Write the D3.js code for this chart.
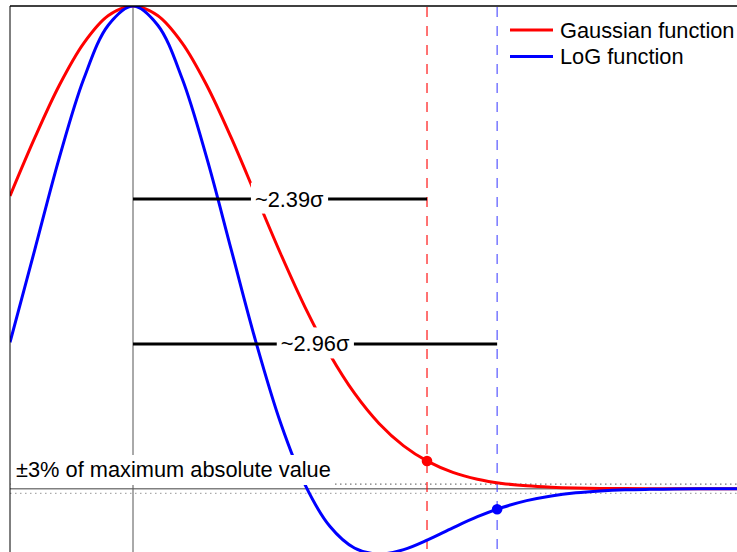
<!DOCTYPE html>
<html>
<head>
<meta charset="utf-8">
<script src="https://cdn.jsdelivr.net/npm/d3@7"></script>
<style>
  body { margin: 0; background: #fff; }
  svg { display: block; }
</style>
</head>
<body>
<div id="chart"></div>
<script>
// sample positions, in units of sigma
const xs = [-1.0, -0.8, -0.6, -0.4, -0.2, 0.0, 0.2, 0.4, 0.6, 0.8, 1.0, 1.2, 1.4, 1.6, 1.8, 2.0,
  2.2, 2.4, 2.6, 2.8, 3.0, 3.2, 3.4, 3.6, 3.8, 4.0, 4.2, 4.4, 4.6, 4.8, 5.0];
const gaussian = [0.6065, 0.7261, 0.8353, 0.9231, 0.9802, 1.0, 0.9802, 0.9231, 0.8353, 0.7261, 0.6065,
  0.4868, 0.3753, 0.2780, 0.1979, 0.1353, 0.0889, 0.0561, 0.0340, 0.0198, 0.0111, 0.0060, 0.0031,
  0.0015, 0.0007, 0.0003, 0.0001, 0.0001, 0, 0, 0];
const logFn = [0.3033, 0.4938, 0.6849, 0.8493, 0.9606, 1.0, 0.9606, 0.8493, 0.6849, 0.4938, 0.3033,
  0.1363, 0.0075, -0.0778, -0.1227, -0.1353, -0.1262, -0.1055, -0.0809, -0.0578, -0.0389, -0.0246,
  -0.0148, -0.0084, -0.0046, -0.0023, -0.0012, -0.0005, -0.0002, -0.0001, 0];

// where each curve enters the band, and the value there
const markX = [2.39, 2.96];
const markY = [0.0575, -0.0423];
const spanY = [0.6, 0.3];
const spanLabels = ["~2.39σ", "~2.96σ"];
const labelX = [1.27, 1.48];
const band = 0.0095;

const seriesNames = ["Gaussian function", "LoG function"];
const colors = ["#ff0000", "#0000ff"];
const dashColors = ["#ff0000", "#4848ff"];

const width = 737;
const height = 552;
const plotLeft = 10, plotTop = 6, plotRight = 737, plotBottom = 552;
const font = "'Liberation Sans', Arial, sans-serif";
const fontSize = "21.8px";

const x = d3.scaleLinear().domain([-1, 4.91]).range([plotLeft, plotRight]);
const y = d3.scaleLinear().domain([-0.131, 1]).range([plotBottom, plotTop]);

const svg = d3.select("#chart").append("svg")
    .attr("width", width)
    .attr("height", height)
    .attr("viewBox", [0, 0, width, height]);

svg.append("defs").append("clipPath").attr("id", "plot")
  .append("rect")
    .attr("x", plotLeft).attr("y", plotTop)
    .attr("width", plotRight - plotLeft).attr("height", plotBottom - plotTop);

// zero line and centre line
svg.append("line")
    .attr("x1", plotLeft).attr("x2", plotRight)
    .attr("y1", y(0)).attr("y2", y(0))
    .attr("stroke", "#808080").attr("stroke-width", 1.6);
svg.append("line")
    .attr("x1", x(0)).attr("x2", x(0))
    .attr("y1", plotTop).attr("y2", plotBottom)
    .attr("stroke", "#555").attr("stroke-width", 1);

// +/- band, dotted
svg.append("g").selectAll("line")
  .data([band, -band])
  .join("line")
    .attr("x1", plotLeft).attr("x2", plotRight)
    .attr("y1", d => y(d)).attr("y2", d => y(d))
    .attr("stroke", (d, i) => i == 0 ? "#777" : "#aaa")
    .attr("stroke-width", 1.2)
    .attr("stroke-dasharray", "1.5,3.5");

// dashed verticals
svg.append("g").selectAll("line")
  .data(markX)
  .join("line")
    .attr("x1", d => x(d)).attr("x2", d => x(d))
    .attr("y1", plotTop).attr("y2", plotBottom)
    .attr("stroke", (d, i) => dashColors[i])
    .attr("stroke-width", 1.1)
    .attr("stroke-dasharray", "10,9")
    .attr("stroke-dashoffset", -1);

// curves
const line = d3.line()
    .x((d, i) => x(xs[i]))
    .y(d => y(d))
    .curve(d3.curveCatmullRom);

svg.append("g").attr("clip-path", "url(#plot)")
  .selectAll("path")
  .data([gaussian, logFn])
  .join("path")
    .attr("d", d => line(d))
    .attr("fill", "none")
    .attr("stroke", (d, i) => colors[i])
    .attr("stroke-width", 3);

// width spans
svg.append("g").selectAll("line")
  .data(spanY)
  .join("line")
    .attr("x1", x(0)).attr("x2", (d, i) => x(markX[i]))
    .attr("y1", d => y(d)).attr("y2", d => y(d))
    .attr("stroke", "#000").attr("stroke-width", 3);

function boxedText(tx, ty, str, anchor, padX, padTop, padBottom) {
  const g = svg.append("g");
  const bg = g.append("rect").attr("fill", "#fff");
  const t = g.append("text")
      .attr("x", tx).attr("y", ty)
      .attr("text-anchor", anchor)
      .style("font-family", font)
      .style("font-size", fontSize)
      .attr("fill", "#000")
      .text(str);
  const b = t.node().getBBox();
  bg.attr("x", b.x - padX).attr("y", b.y - padTop)
    .attr("width", b.width + 2 * padX).attr("height", b.height + padTop + padBottom);
  return g;
}

spanLabels.forEach((s, i) => {
  boxedText(x(labelX[i]), y(spanY[i]) + 7.5, s, "middle", 4, 4, 2);
});

// band label
const bandLabel = boxedText(16, 477, "±3% of maximum absolute value", "start", 2, 2, 3);
bandLabel.select("rect").attr("x", plotLeft + 0.5).attr("width", 332 - plotLeft - 0.5);

// markers
svg.append("g").selectAll("circle")
  .data(markX)
  .join("circle")
    .attr("cx", d => x(d))
    .attr("cy", (d, i) => y(markY[i]))
    .attr("r", 5.3)
    .attr("fill", (d, i) => colors[i]);

// frame: top and left
svg.append("line")
    .attr("x1", plotLeft).attr("x2", plotRight).attr("y1", plotTop).attr("y2", plotTop)
    .attr("stroke", "#000").attr("stroke-width", 1.3);
svg.append("line")
    .attr("x1", plotLeft).attr("x2", plotLeft).attr("y1", plotTop).attr("y2", plotBottom)
    .attr("stroke", "#000").attr("stroke-width", 1);

// legend
const legend = svg.append("g").attr("transform", "translate(510,30)");
legend.append("rect")
    .attr("x", -4).attr("y", -14).attr("width", 230).attr("height", 50)
    .attr("fill", "#fff");
seriesNames.forEach((name, i) => {
  legend.append("line")
      .attr("x1", 0).attr("x2", 43)
      .attr("y1", i * 26.5).attr("y2", i * 26.5)
      .attr("stroke", colors[i]).attr("stroke-width", 3);
  legend.append("text")
      .attr("x", 50).attr("y", i * 26.5 + 7.5)
      .style("font-family", font)
      .style("font-size", fontSize)
      .text(name);
});
</script>
</body>
</html>
